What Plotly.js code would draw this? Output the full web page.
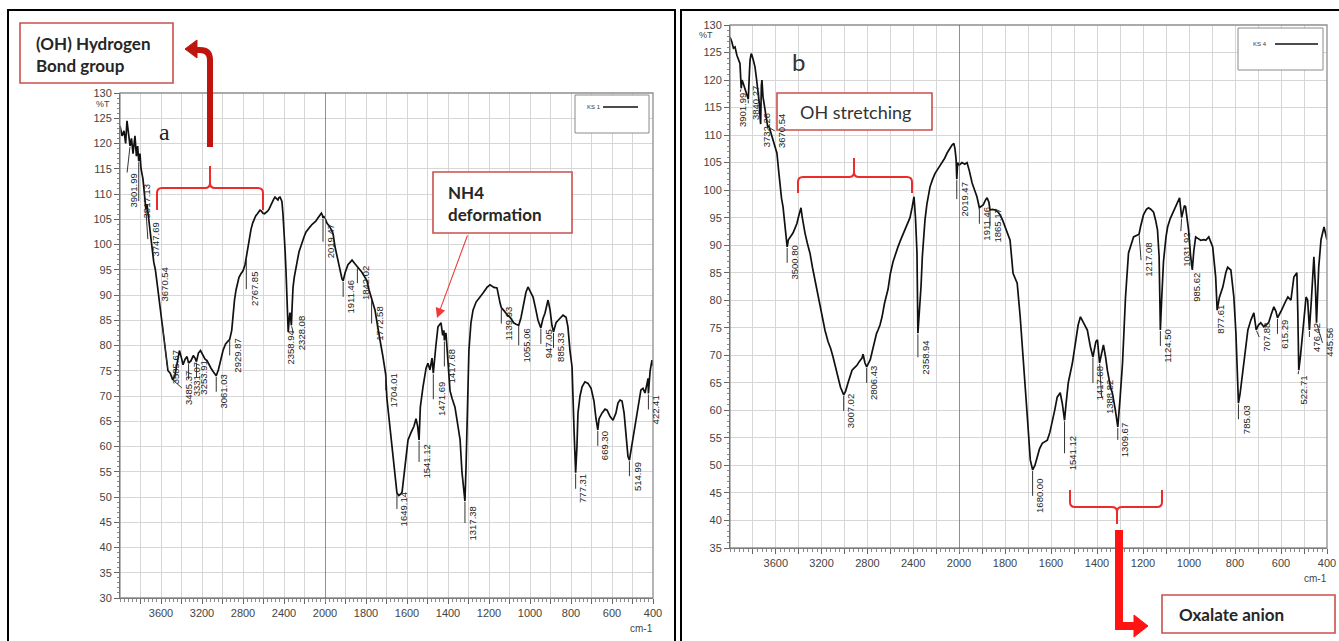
<!DOCTYPE html>
<html>
<head>
<meta charset="utf-8">
<script src="https://cdn.plot.ly/plotly-3.0.1.min.js"></script>
<style>
  html, body { margin: 0; padding: 0; background: #ffffff; }
  #chart { width: 1339px; height: 641px; }
</style>
</head>
<body>
<div id="chart"></div>
<script>
// ---------- FTIR spectrum of sample KS 1 (wavenumber cm-1 / %T) ----------
const ks1Wavenumber = [
  4000, 3980, 3961, 3945, 3932, 3915, 3901.99, 3888, 3873, 3854,
  3840, 3828, 3817.13, 3805, 3795, 3776, 3760, 3747.69, 3737, 3717,
  3698, 3685, 3670.54, 3655, 3639, 3620, 3600, 3585.67, 3565, 3551,
  3532, 3510, 3485.37, 3465, 3444, 3420, 3400, 3385, 3365, 3346,
  3331.07, 3307, 3285, 3268, 3253.91, 3235, 3215, 3190, 3170, 3151,
  3130, 3112, 3090, 3061.03, 3040, 3020, 2995, 2970, 2950, 2929.87,
  2910, 2898, 2883, 2868, 2850, 2839, 2820, 2800, 2780, 2767.85,
  2751, 2735, 2722, 2705, 2693, 2675, 2663, 2645, 2634, 2620,
  2605, 2590, 2576, 2560, 2546, 2530, 2517, 2500, 2488, 2470,
  2459, 2450, 2439, 2430, 2420, 2410, 2400, 2390, 2381, 2370,
  2358.94, 2350, 2342, 2335, 2328.08, 2320, 2312, 2300, 2283, 2270,
  2254, 2240, 2224, 2205, 2185, 2165, 2146, 2125, 2107, 2090,
  2078, 2060, 2049, 2035, 2025, 2019.47, 2010, 2000,
  1990, 1976, 1961, 1951, 1941, 1927, 1917, 1911.46, 1902, 1888,
  1878, 1868, 1854, 1842.02, 1830, 1820, 1810, 1795, 1785, 1772.58,
  1766, 1756, 1746, 1737, 1727, 1717, 1704.01, 1698, 1688, 1678,
  1668, 1659, 1649.14, 1640, 1630, 1624, 1615, 1605, 1595, 1580,
  1566, 1556, 1548, 1541.12, 1535, 1522, 1507, 1498, 1488, 1478,
  1471.69, 1459, 1449, 1434, 1426, 1420, 1417.68, 1410, 1400, 1390,
  1380, 1366, 1356, 1341, 1332, 1317.38, 1312, 1307, 1298, 1288,
  1278, 1263, 1249, 1229, 1210, 1195, 1176, 1161, 1146, 1139.93,
  1125, 1110, 1095, 1080, 1068, 1055.06, 1044, 1034, 1020, 1010,
  995, 985, 971, 961, 947.05, 937, 927, 917, 912, 902,
  893, 885.33, 873, 858, 839, 824, 815, 805, 795, 785,
  777.31, 771, 766, 756, 746, 732, 717, 702, 688, 678,
  669.30, 663, 649, 634, 624, 610, 595, 581, 571, 561,
  551, 541, 532, 522, 514.99, 508, 502, 488, 478, 468,
  459, 449, 439, 429, 424, 422.41, 414, 405, 400
];
const ks1Transmittance = [
  123.5, 121.5, 122.5, 120, 124.5, 121, 119.5, 121, 118, 121.5,
  117.5, 119.5, 116.5, 118, 115, 113, 110, 107, 108, 104,
  101, 99, 96.5, 95, 92.5, 89.5, 86.5, 84, 80, 78,
  75, 74.5, 73.2, 74, 76.5, 79, 77.5, 76.2, 77.3, 77.8,
  76.5, 77, 78, 77.5, 76.8, 78.5, 79, 78, 77.3, 77,
  76, 75.5, 74.8, 74, 75.2, 77, 79, 80.3, 80.8, 81.2,
  83, 86, 89, 91, 92.5, 93.5, 94.2, 94.8, 96, 97.5,
  100, 101.8, 103, 104.3, 105, 105.7, 106, 106.5, 106.8, 106.6,
  106.2, 106.1, 106.3, 106.6, 107, 107.8, 108.5, 109, 109.4, 109,
  108.8, 109.3, 109.4, 109, 108.5, 106, 103, 99, 95, 89,
  82.7, 85, 86.5, 85.5, 84, 88, 91.5, 93.5, 95, 96.8,
  98.5, 99.5, 100.3, 101.5, 102.5, 103.1, 103.5, 104, 104.3, 104.6,
  105, 105.5, 105.8, 106.2, 105.8, 105.3, 105.5, 105.2,
  104.2, 103.5, 102.2, 99.5, 97.5, 94.5, 93.2, 92.8, 94.4, 96,
  96.5, 96.9, 96.2, 95.5, 95, 94.5, 93.8, 92.8, 91, 89.3,
  88.5, 87, 84.5, 82, 80, 77.7, 74.3, 69.5, 65.5, 62,
  58, 53.5, 50.8, 50.3, 50.6, 51, 54, 58, 61.3, 62.8,
  64, 65.5, 64, 61.3, 67.8, 71.8, 75.5, 76.5, 75.2, 77.5,
  74.5, 80, 83.7, 84.5, 82, 83, 81, 82.5, 76, 71,
  69.5, 67.8, 65.2, 61.3, 55, 49.2, 56, 62.6, 79, 84.5,
  87, 88.6, 89.3, 90.4, 91.5, 92, 91.5, 91.4, 88.4, 87.5,
  86.8, 86, 85.5, 84.5, 84.2, 84, 85.5, 87.6, 90.5, 91.6,
  90.5, 89.6, 87, 85, 83.5, 85.3, 86.4, 88, 89, 87,
  84, 82.7, 84.5, 85.2, 86, 85.6, 83.7, 79, 75.8, 63,
  54.8, 60, 66.6, 70, 71.8, 72.8, 72.5, 71.5, 69, 65.5,
  63.3, 65.5, 66.6, 67.4, 67.2, 66, 65.2, 66.6, 68.6, 69.2,
  69, 66.6, 62, 58, 57.3, 59, 61.3, 64.5, 66.6, 69.5,
  71.2, 71.5, 70.6, 72.5, 73.5, 70.5, 75, 77.1, 76
];
const ks1PeakLabels = [
  '3901.99', '3817.13', '3747.69', '3670.54', '3585.67', '3485.37', '3331.07', '3253.91',
  '3061.03', '2929.87', '2767.85', '2358.94', '2328.08', '2019.47', '1911.46', '1842.02',
  '1772.58', '1704.01', '1649.14', '1541.12', '1471.69', '1417.68', '1317.38', '1139.93',
  '1055.06', '947.05', '885.33', '777.31', '669.30', '514.99', '422.41'
];

// ---------- FTIR spectrum of sample KS 4 ----------
const ks4Wavenumber = [
  4000, 3985, 3970, 3956, 3940, 3925, 3913, 3901.99, 3895, 3886,
  3870, 3852, 3840.27, 3830, 3825, 3815, 3808, 3795, 3782, 3770,
  3755, 3745, 3738, 3732.26, 3726, 3721, 3712, 3703, 3690, 3677,
  3670.54, 3660, 3651, 3640, 3624, 3605, 3590, 3575, 3563, 3550,
  3537, 3520, 3500.80, 3490, 3476, 3462, 3450, 3430, 3415, 3400,
  3390, 3380, 3370, 3360, 3345, 3325, 3301, 3280, 3258, 3236,
  3214, 3190, 3170, 3144, 3120, 3100, 3080, 3057, 3035, 3007.02,
  2990, 2969, 2950, 2934, 2910, 2891, 2870, 2847, 2838, 2830,
  2821, 2806.43, 2790, 2775, 2760, 2745, 2734, 2720, 2707, 2690,
  2672, 2650, 2620, 2600, 2576, 2555, 2533, 2505, 2472, 2450,
  2428, 2410, 2393, 2380, 2367, 2358.94, 2345, 2332, 2320, 2310,
  2297, 2280, 2253, 2230, 2210, 2180, 2148, 2125, 2105, 2085,
  2061, 2045, 2035, 2025, 2019.47, 2012, 2000,
  1987, 1975, 1965, 1955, 1943, 1932, 1922, 1911.46, 1902, 1895,
  1885, 1878, 1870, 1865.17, 1855, 1843, 1830, 1821, 1810, 1799,
  1785, 1778, 1765, 1747, 1734, 1721, 1704, 1690, 1680.00, 1670,
  1660, 1650, 1638, 1627, 1616, 1605, 1595, 1584, 1573, 1560,
  1551, 1541.12, 1535, 1525, 1507, 1494, 1482, 1472, 1459, 1442,
  1429, 1417.68, 1405, 1398, 1388.82, 1380, 1372, 1362, 1355, 1340,
  1333, 1320, 1309.67, 1300, 1289, 1276, 1263, 1241, 1230, 1217.08,
  1211, 1198, 1185, 1176, 1165, 1154, 1145, 1137, 1130, 1124.50,
  1119, 1111, 1100, 1093, 1082, 1071, 1060, 1050, 1041, 1031.92,
  1020, 1015, 1008, 1002, 993, 985.62, 979, 971, 960, 949,
  935, 927, 914, 905, 897, 884, 877.61, 868, 853, 840,
  832, 818, 805, 796, 790, 785.03, 778, 765, 744, 731,
  718, 707.88, 698, 688, 675, 663, 653, 642, 631, 622,
  615.29, 600, 592, 580, 570, 557, 544, 531, 527, 522.71,
  515, 505, 491, 484, 476.42, 468, 457, 450, 445.56, 436,
  426, 413, 400
];
const ks4Transmittance = [
  127.8, 127, 125.8, 126, 124.5, 123.5, 123, 118.5, 120, 119.5,
  118.5, 117.3, 116.5, 121.5, 123.6, 124.8, 124.5, 123.5, 122.4, 120.5,
  118.2, 116, 113.5, 112, 119, 120, 117, 115.8, 114, 112.7,
  111.5, 111.6, 111, 110, 109, 108, 106.7, 103.5, 100.6, 98.5,
  97, 93.5, 89.7, 91, 91.5, 92, 92.2, 93.2, 94, 95.3,
  96.2, 96.8, 95.2, 93.7, 92.2, 90.4, 88.5, 86, 83.7, 81.2,
  78.8, 76.6, 74.5, 72.5, 71.2, 69.7, 68, 66, 64.2, 62.8,
  63.5, 65, 66.5, 67.3, 67.8, 68.2, 68.9, 69.5, 70.2, 69.2,
  68.6, 67.9, 68.5, 69.2, 70.5, 72, 72.8, 74, 74.6, 75.5,
  77, 79.5, 82, 84.8, 87, 88.5, 89.7, 91.2, 92.8, 94,
  95, 96.8, 98.8, 95, 88.6, 74, 78, 82.4, 88, 92,
  94.6, 97.5, 100.6, 102, 103, 104, 105, 105.8, 106.7, 107.4,
  108.2, 108.5, 107.5, 105.5, 102, 105, 104.5,
  105, 104.7, 105, 103.5, 101.3, 100, 98.8, 96.8, 97, 97.3,
  98.2, 98.6, 97.8, 96.4, 96.5, 96.4, 96, 95.5, 94.5, 93.3,
  92, 90.9, 84.9, 83.1, 77, 68.6, 59.5, 51, 49.2, 50,
  51.5, 53, 54, 54.3, 54.6, 56, 57.7, 60, 62.4, 63.2,
  61.3, 58.2, 61, 65, 68.6, 72.2, 75.5, 77, 75.9, 74.6,
  71.6, 69.7, 72.5, 72.8, 68.6, 70.5, 71.9, 69.5, 67.3, 64,
  63.1, 60, 57, 62, 68.6, 80.6, 88.6, 91.5, 91.8, 92,
  93.3, 95.5, 96.5, 96.8, 96.5, 96, 94.5, 92.8, 88, 74.6,
  80, 87, 91.5, 93.3, 94.8, 95.8, 96.8, 97.8, 98.6, 95,
  97.2, 97, 95, 92.8, 88, 85.5, 89, 91.5, 91.2, 90.9,
  91, 90.9, 91.5, 90.5, 89.7, 84.2, 78.2, 80.5, 82.4, 85,
  86, 85.5, 80.6, 74, 68, 61.3, 63, 67.3, 74.6, 76.4,
  77.7, 74.6, 75.5, 75.9, 75.2, 75.6, 76, 77.5, 78.8, 78,
  76.8, 78, 78.8, 79.8, 80.6, 80, 84.2, 85, 78, 67.3,
  70, 74.6, 80.6, 80, 74.6, 80, 87.9, 82, 75.9, 86,
  91, 93.3, 91
];
const ks4PeakLabels = [
  '3901.99', '3840.27', '3732.26', '3670.54', '3500.80', '3007.02', '2806.43', '2358.94',
  '2019.47', '1911.46', '1865.17', '1680.00', '1541.12', '1417.68', '1388.82', '1309.67',
  '1217.08', '1124.50', '1031.92', '985.62', '877.61', '785.03', '707.88', '615.29',
  '522.71', '476.42', '445.56'
];

// ---------- axis tick labels ----------
const highRangeTickLabels = ['3600', '3200', '2800', '2400', '2000'];
const lowRangeTickLabels = ['1800', '1600', '1400', '1200', '1000', '800', '600', '400'];

// ---------- page geometry helpers ----------
const W = 1339, H = 641;
const fx = v => v / W;
const fy = v => 1 - v / H;
function pth(cmds) {
  return cmds.map(c => {
    const pts = [];
    for (let i = 1; i < c.length; i += 2) pts.push(fx(c[i]).toFixed(5) + ',' + fy(c[i + 1]).toFixed(5));
    return c[0] + ' ' + pts.join(' ');
  }).join(' ');
}

const TICK_FONT = 'Liberation Sans Narrow, Liberation Sans, Arial, sans-serif';
const BOX_FONT = 'Lato, Open Sans, sans-serif';
const BOX_RED = '#c9504c';
const BRACE_RED = '#ee2a2a';
const GRID = '#d6d6d6';

// plot areas (page pixels)
const A = { left: 120, mid: 325, right: 653, top: 93, bottom: 598 };
const B = { left: 730, mid: 959, right: 1327, top: 25, bottom: 548 };

function interp(ws, ts, w) {
  for (let i = 0; i < ws.length - 1; i++) {
    if (w <= ws[i] && w >= ws[i + 1]) {
      const f = (ws[i] - w) / ((ws[i] - ws[i + 1]) || 1);
      return ts[i] + (ts[i + 1] - ts[i]) * f;
    }
  }
  return ts[ts.length - 1];
}

function splitRange(ws, ts, upper) {
  const x = [], y = [];
  ws.forEach((w, i) => { if (upper ? w >= 2000 : w <= 2000) { x.push(w); y.push(ts[i]); } });
  return { x, y };
}

function spectrumTraces(ws, ts, xa, xb, ya) {
  const hi = splitRange(ws, ts, true), lo = splitRange(ws, ts, false);
  const line = { color: '#111111', width: 1.7 };
  return [
    { type: 'scatter', mode: 'lines', x: hi.x, y: hi.y, xaxis: xa, yaxis: ya, line, hoverinfo: 'skip' },
    { type: 'scatter', mode: 'lines', x: lo.x, y: lo.y, xaxis: xb, yaxis: ya, line, hoverinfo: 'skip' }
  ];
}

function xAxis(p0, p1, range, step, labels, minorStep, anchor) {
  const vals = [];
  for (let v = range[0] - step; v >= range[1] - 1e-6; v -= step) vals.push(v);
  return {
    domain: [fx(p0), fx(p1)], range, autorange: false, anchor,
    tickmode: 'array', tickvals: vals, ticktext: vals.map(v => labels.includes(String(v)) ? String(v) : ''),
    ticks: 'outside', ticklen: 5, tickwidth: 1, tickcolor: '#666',
    showgrid: true, gridcolor: GRID, gridwidth: 1,
    showline: true, linecolor: '#444', linewidth: 1, zeroline: false,
    tickfont: { family: TICK_FONT, size: 11, color: '#444' },
    minor: { tickmode: 'linear', tick0: 0, dtick: minorStep, ticks: 'outside', ticklen: 3, tickcolor: '#888', showgrid: false },
    fixedrange: true
  };
}

function yAxis(top, bottom, range, anchor) {
  return {
    domain: [fy(bottom), fy(top)], range, autorange: false, anchor,
    tickmode: 'linear', tick0: 0, dtick: 5,
    ticks: 'outside', ticklen: 5, tickwidth: 1, tickcolor: '#666',
    showgrid: true, gridcolor: GRID, gridwidth: 1,
    showline: true, linecolor: '#444', linewidth: 1, zeroline: false,
    tickfont: { family: TICK_FONT, size: 11, color: '#444' },
    minor: { tickmode: 'linear', tick0: 0, dtick: 1, ticks: 'outside', ticklen: 2.5, tickcolor: '#888', showgrid: false },
    fixedrange: true
  };
}

// leader offsets (px) for peak labels that sit away from the default spot
const leadersKs1 = {
  '3901.99': [-5, 45], '3817.13': [0, 40], '3747.69': [2, 30], '3670.54': [3, 22],
  '3585.67': [5, 42], '3485.37': [9, 8], '2767.85': [0, 32], '2358.94': [-5, 16],
  '2328.08': [2, 8], '2019.47': [0, 24], '1772.58': [0, 25], '1471.69': [0, 26],
  '1417.68': [0, 26], '1541.12': [0, 22], '1317.38': [0, 22], '1055.06': [0, 20]
};
const leadersKs4 = {
  '3901.99': [-6, 22], '3840.27': [0, 4], '3732.26': [-2, 6], '3670.54': [7, 4],
  '2358.94': [0, 24], '2019.47': [0, 20], '1680.00': [0, 26], '1541.12': [0, 33],
  '1417.68': [0, 26], '1388.82': [2, 34], '1309.67': [0, 13], '1217.08': [2, 26],
  '1031.92': [-2, 32], '985.62': [-3, 17], '877.61': [-4, 9], '707.88': [3, 7],
  '522.71': [-3, 20], '476.42': [0, 7], '445.56': [6, 20]
};

function peakNotes(labels, ws, ts, xa, xb, ya, leaders) {
  return labels.map(lbl => {
    const w = parseFloat(lbl);
    const off = leaders[lbl] || [0, 16];
    return {
      xref: w >= 2000 ? xa : xb, yref: ya, x: w, y: interp(ws, ts, w),
      text: lbl, textangle: -90, showarrow: true, arrowhead: 0, arrowwidth: 1,
      arrowcolor: '#333', standoff: 1, ax: off[0], ay: off[1],
      xanchor: 'center', yanchor: 'top',
      font: { family: TICK_FONT, size: 9.5, color: '#222' }
    };
  });
}

function paperText(x, y, text, opts) {
  return Object.assign({
    xref: 'paper', yref: 'paper', x: fx(x), y: fy(y), text, showarrow: false,
    xanchor: 'center', yanchor: 'middle'
  }, opts);
}

function rect(x0, y0, x1, y1, line, fill) {
  return { type: 'rect', xref: 'paper', yref: 'paper', x0: fx(x0), y0: fy(y0), x1: fx(x1), y1: fy(y1),
           line, fillcolor: fill || 'rgba(0,0,0,0)', layer: 'above' };
}
function seg(x0, y0, x1, y1, line) {
  return { type: 'line', xref: 'paper', yref: 'paper', x0: fx(x0), y0: fy(y0), x1: fx(x1), y1: fy(y1), line, layer: 'above' };
}
function path(cmds, line, fill) {
  return { type: 'path', xref: 'paper', yref: 'paper', path: pth(cmds), line, fillcolor: fill || 'rgba(0,0,0,0)', layer: 'above' };
}

const data = [].concat(
  spectrumTraces(ks1Wavenumber, ks1Transmittance, 'x', 'x2', 'y'),
  spectrumTraces(ks4Wavenumber, ks4Transmittance, 'x3', 'x4', 'y2')
);

const shapes = [
  // outer panel frames
  rect(8, 10, 675, 660, { color: '#000', width: 2 }),
  rect(681, 10, 1350, 660, { color: '#000', width: 2 }),
  // plot area borders
  rect(A.left, A.top, A.right, A.bottom, { color: '#8f8f8f', width: 1.3 }),
  rect(B.left, B.top, B.right, B.bottom, { color: '#8f8f8f', width: 1.3 }),
  // 2000 cm-1 scale change
  { type: 'line', xref: 'x2', yref: 'paper', x0: 2000, x1: 2000, y0: fy(A.bottom), y1: fy(A.top), line: { color: '#555', width: 1.3 } },
  { type: 'line', xref: 'x4', yref: 'paper', x0: 2000, x1: 2000, y0: fy(B.bottom), y1: fy(B.top), line: { color: '#555', width: 1.3 } },
  // legends
  rect(575, 95, 649, 133, { color: '#8a8a8a', width: 1 }, '#ffffff'),
  seg(603, 107, 638, 107, { color: '#111', width: 1.6 }),
  rect(1238, 28, 1323, 70, { color: '#8a8a8a', width: 1 }, '#ffffff'),
  seg(1275, 44, 1318, 44, { color: '#111', width: 1.6 }),
  // panel a: hydrogen bond callout
  rect(20, 23, 173, 83, { color: BOX_RED, width: 1.6 }, '#ffffff'),
  path([['M', 210, 147], ['L', 210, 60], ['Q', 210, 50, 200, 50], ['L', 195, 50]], { color: '#c0140e', width: 6 }),
  path([['M', 185, 49], ['L', 197, 40], ['L', 197, 58], ['Z']], { color: '#c0140e', width: 1 }, '#c0140e'),
  path([['M', 157, 210], ['L', 157, 193], ['Q', 157, 188, 162, 188], ['L', 205, 188], ['Q', 210, 188, 210, 183],
        ['L', 210, 166], ['L', 210, 183], ['Q', 210, 188, 215, 188], ['L', 258, 188], ['Q', 263, 188, 263, 193], ['L', 263, 210]],
       { color: BRACE_RED, width: 2 }),
  // panel a: NH4 callout box
  rect(433, 172, 572, 233, { color: BOX_RED, width: 1.6 }, '#ffffff'),
  // panel b: OH stretching callout
  rect(777, 93, 932, 130, { color: BOX_RED, width: 1.6 }, '#ffffff'),
  path([['M', 798, 193], ['L', 798, 182], ['Q', 798, 177, 803, 177], ['L', 849, 177], ['Q', 854, 177, 854, 172],
        ['L', 854, 158], ['L', 854, 172], ['Q', 854, 177, 859, 177], ['L', 907, 177], ['Q', 912, 177, 912, 182], ['L', 912, 193]],
       { color: BRACE_RED, width: 2 }),
  // panel b: oxalate callout
  path([['M', 1070, 490], ['L', 1070, 502], ['Q', 1070, 507, 1075, 507], ['L', 1112, 507], ['Q', 1117, 507, 1117, 512],
        ['L', 1117, 524], ['L', 1117, 512], ['Q', 1117, 507, 1122, 507], ['L', 1157, 507], ['Q', 1162, 507, 1162, 502], ['L', 1162, 490]],
       { color: BRACE_RED, width: 2 }),
  path([['M', 1119, 530], ['L', 1119, 626], ['L', 1136, 626]], { color: '#ff1414', width: 8 }),
  path([['M', 1148, 626], ['L', 1134, 615], ['L', 1134, 637], ['Z']], { color: '#ff1414', width: 1 }, '#ff1414'),
  rect(1162, 595, 1335, 633, { color: BOX_RED, width: 1.6 }, '#ffffff')
];

const annotations = [].concat(
  peakNotes(ks1PeakLabels, ks1Wavenumber, ks1Transmittance, 'x', 'x2', 'y', leadersKs1),
  peakNotes(ks4PeakLabels, ks4Wavenumber, ks4Transmittance, 'x3', 'x4', 'y2', leadersKs4),
  [
    paperText(103, 104, '%T', { font: { family: TICK_FONT, size: 9, color: '#444' } }),
    paperText(706, 35, '%T', { font: { family: TICK_FONT, size: 9, color: '#444' } }),
    paperText(641, 628, 'cm-1', { font: { family: TICK_FONT, size: 10, color: '#444' } }),
    paperText(1315, 578, 'cm-1', { font: { family: TICK_FONT, size: 10, color: '#444' } }),
    paperText(594, 107, 'KS 1', { font: { family: TICK_FONT, size: 6, color: '#333' } }),
    paperText(1260, 44, 'KS 4', { font: { family: TICK_FONT, size: 6, color: '#333' } }),
    paperText(164, 132, 'a', { font: { family: 'Liberation Serif, serif', size: 24, color: '#222' } }),
    paperText(799, 62, 'b', { font: { family: BOX_FONT, size: 24, color: '#333' } }),
    paperText(34, 54, '<b>(OH) Hydrogen<br>Bond group</b>',
      { xanchor: 'left', align: 'left', font: { family: BOX_FONT, size: 17, color: '#262626' } }),
    paperText(446, 203, '<b>NH4<br>deformation</b>',
      { xanchor: 'left', align: 'left', font: { family: BOX_FONT, size: 17, color: '#262626' } }),
    paperText(855, 112, 'OH stretching', { font: { family: BOX_FONT, size: 18, color: '#333' } }),
    paperText(1177, 614, '<b>Oxalate anion</b>',
      { xanchor: 'left', font: { family: BOX_FONT, size: 17, color: '#262626' } }),
    {
      xref: 'paper', yref: 'paper', x: fx(437), y: fy(318), text: '', showarrow: true,
      ax: 31, ay: -84, arrowhead: 2, arrowsize: 1.8, arrowwidth: 1.1, arrowcolor: '#f03a3a'
    }
  ]
);

const layout = {
  width: W, height: H,
  margin: { l: 0, r: 0, t: 0, b: 0 },
  paper_bgcolor: '#ffffff', plot_bgcolor: '#ffffff',
  showlegend: false,
  xaxis: xAxis(A.left, A.mid, [4000, 2000], 200, highRangeTickLabels, 40, 'y'),
  xaxis2: xAxis(A.mid, A.right, [2000, 400], 100, lowRangeTickLabels, 20, 'y'),
  yaxis: yAxis(A.top, A.bottom, [30, 130], 'x'),
  xaxis3: xAxis(B.left, B.mid, [4000, 2000], 200, highRangeTickLabels, 40, 'y2'),
  xaxis4: xAxis(B.mid, B.right, [2000, 400], 100, lowRangeTickLabels, 20, 'y2'),
  yaxis2: yAxis(B.top, B.bottom, [35, 130], 'x3'),
  shapes, annotations
};

Plotly.newPlot('chart', data, layout, { staticPlot: true, displayModeBar: false });
</script>
</body>
</html>
